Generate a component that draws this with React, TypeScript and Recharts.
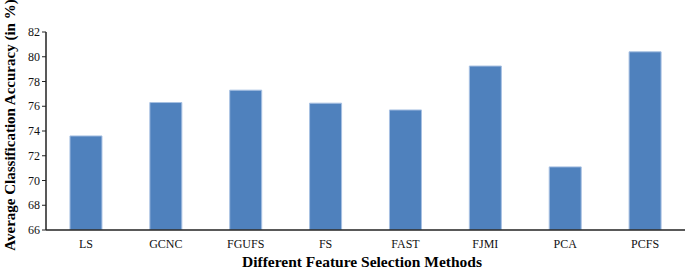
import { BarChart, Bar, XAxis, YAxis, Label } from "recharts";

const methods = ["LS", "GCNC", "FGUFS", "FS", "FAST", "FJMI", "PCA", "PCFS"];
const accuracy = [73.6, 76.3, 77.3, 76.25, 75.7, 79.25, 71.1, 80.4];
const yTicks = [66, 68, 70, 72, 74, 76, 78, 80, 82];

const data = methods.map((m, i) => ({ method: m, accuracy: accuracy[i] }));

const font = '"Liberation Serif", "Times New Roman", serif';

const XTick = (props: any) => {
  const { x, y, payload } = props;
  return (
    <text x={x} y={y + 12} textAnchor="middle" fontFamily={font} fontSize={12} fill="#111">
      {payload.value}
    </text>
  );
};

const YTick = (props: any) => {
  const { x, y, payload } = props;
  return (
    <text x={x} y={y + 4} textAnchor="end" fontFamily={font} fontSize={12} fill="#111">
      {payload.value}
    </text>
  );
};

const App = () => {
  return (
    <div
      style={{
        position: "absolute",
        left: 0,
        top: 0,
        width: 685,
        height: 271,
        background: "#fff",
        fontFamily: font,
      }}
    >
      <BarChart
        width={685}
        height={271}
        data={data}
        margin={{ top: 32, right: 0, bottom: 11, left: 0 }}
        barCategoryGap="30%"
      >
        <XAxis
          dataKey="method"
          height={30}
          tickLine={false}
          tickSize={4}
          tickMargin={2}
          axisLine={{ stroke: "#222", strokeWidth: 1.5 }}
          tick={<XTick />}
          interval={0}
        >
          <Label
            content={() => (
              <text
                x={362}
                y={267}
                textAnchor="middle"
                fontFamily={font}
                fontWeight="bold"
                fontSize={15.5}
                fill="#000"
              >
                Different Feature Selection Methods
              </text>
            )}
          />
        </XAxis>
        <YAxis
          width={46}
          domain={[66, 82]}
          ticks={yTicks}
          allowDataOverflow
          tickSize={4}
          tickMargin={2}
          tickLine={{ stroke: "#222" }}
          axisLine={{ stroke: "#222", strokeWidth: 1.5 }}
          tick={<YTick />}
        >
          <Label
            content={() => (
              <text
                x={15}
                y={125}
                transform="rotate(-90 15 125)"
                textAnchor="middle"
                fontFamily={font}
                fontWeight="bold"
                fontSize={15}
                fill="#000"
              >
                Average Classification Accuracy (in %)
              </text>
            )}
          />
        </YAxis>
        <Bar
          dataKey="accuracy"
          fill="#4F81BD"
          stroke="#A7C0E2"
          strokeWidth={1}
          isAnimationActive={false}
        />
      </BarChart>
    </div>
  );
};

export default App;
